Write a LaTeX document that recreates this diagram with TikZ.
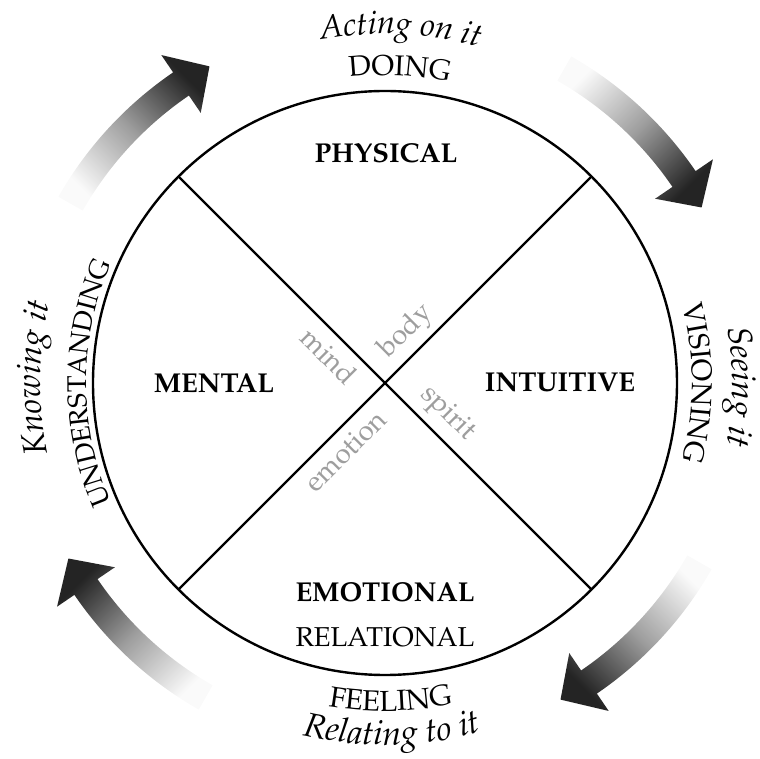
\documentclass[tikz,border=0pt]{standalone}
\usepackage[T1]{fontenc}
\usepackage{mathpazo}
\usetikzlibrary{decorations.text}
\tikzset{
  quad/.style={font=\bfseries\fontsize{27.3}{32}\selectfont, inner sep=0pt},
  subl/.style={font=\fontsize{27.3}{32}\selectfont, inner sep=0pt},
  elem/.style={font=\fontsize{28}{30}\selectfont, text=black!38, inner sep=0pt},
  curved/.style={decorate, decoration={text along path, text align=center, text={#1}}},
}
\newcommand\cyclearrow[2]{%
  \path[top color=black!86, bottom color=black!2, middle color=black!38, shading angle=#2]
    ({#1+17}:376pt) arc[start angle={#1+17}, end angle={#1-9}, radius=376pt]
    -- ({#1-9}:397pt) -- ({#1-14.3}:362pt) -- ({#1-9}:327pt) -- ({#1-9}:348pt)
    arc[start angle={#1-9}, end angle={#1+17}, radius=348pt] -- cycle;}
\begin{document}
\begin{tikzpicture}[x=1pt,y=1pt]
\useasboundingbox (-385,-376) rectangle (375,383);
% arrows
\cyclearrow{133.3}{-45}
\cyclearrow{43.3}{-135}
\cyclearrow{-46.7}{-225}
\cyclearrow{-136.7}{-315}
% circle and diagonals
\node[circle, draw, line width=2.4pt, minimum size=584pt, inner sep=0pt, outer sep=0pt] (wheel) at (0,0) {};
\draw[line width=2.2pt] (wheel.45) -- (wheel.225);
\draw[line width=2.2pt] (wheel.135) -- (wheel.315);
% quadrant labels
\node[quad] (physical) at (1,230) {PHYSICAL};
\node[quad] (mental) at (-171,0) {MENTAL};
\node[quad] (intuitive) at (175,0) {INTUITIVE};
\node[quad] (emotional) at (0,-209) {EMOTIONAL};
\node[subl] (relational) at (0,-254) {RELATIONAL};
% elements
\node[elem, rotate=45] (body) at (21,51) {body};
\node[elem, rotate=-45] (mind) at (-56,27) {mind};
\node[elem, rotate=-45] (spirit) at (62,-31) {spirit};
\node[elem, rotate=45] (emotion) at (-40,-68) {emotion};
% curved texts
\path[curved={|\itshape\fontsize{32.5}{34}\selectfont|Acting on it}] (127.5:349pt) arc[start angle=127.5, end angle=47.5, radius=349pt];
\path[curved={|\fontsize{28.7}{32}\selectfont|DOING}] (127.3:308pt) arc[start angle=127.3, end angle=47.3, radius=308pt];
\path[curved={|\itshape\fontsize{33.5}{36}\selectfont|Seeing it}] (39.35:347pt) arc[start angle=39.35, end angle=-40.65, radius=347pt];
\path[curved={|\fontsize{28.7}{32}\selectfont|VISIONING}] (40:307pt) arc[start angle=40, end angle=-40, radius=307pt];
\path[curved={|\itshape\fontsize{33}{36}\selectfont|Knowing it}] (219.2:345pt) arc[start angle=219.2, end angle=139.2, radius=345pt];
\path[curved={|\fontsize{27}{32}\selectfont|UNDERSTANDING}] (220:299pt) arc[start angle=220, end angle=140, radius=299pt];
\path[curved={|\fontsize{29}{32}\selectfont|FEELING}] (-129:328pt) arc[start angle=-129, end angle=-49, radius=328pt];
\path[curved={|\itshape\fontsize{34}{36}\selectfont|Relating to it}] (-128.9:362pt) arc[start angle=-128.9, end angle=-48.9, radius=362pt];
\end{tikzpicture}
\end{document}
